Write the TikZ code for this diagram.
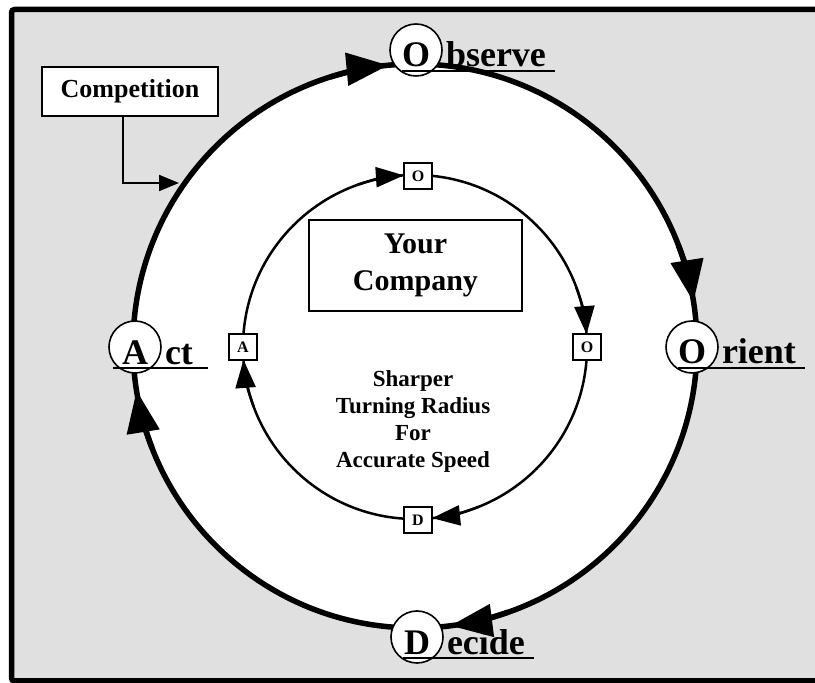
\documentclass[tikz,border=0pt]{standalone}
\usepackage{fontspec}
\setmainfont{Liberation Serif}
\usetikzlibrary{arrows.meta,calc,positioning}
\definecolor{panelgray}{RGB}{224,224,224}
\tikzset{
	bigtip/.style={-{Triangle[length=42pt,width=32pt]}},
	smalltip/.style={-{Triangle[length=28pt,width=20pt]}},
	outerring/.style={line width=5.5pt},
	innerring/.style={line width=2.5pt},
	stepring/.style={circle,draw,line width=1.6pt,fill=white,minimum size=52pt,inner sep=0pt},
	stepletter/.style={inner sep=0pt,font=\fontsize{36}{40}\selectfont\bfseries},
	stepword/.style={anchor=base west,inner sep=0pt,font=\fontsize{36}{40}\selectfont\bfseries},
	uline/.style={line width=2pt},
	stepbox/.style={draw,line width=1.5pt,fill=white,minimum width=28pt,minimum height=26pt,inner sep=0pt,font=\fontsize{16}{18}\selectfont\bfseries}
}
\begin{document}
\begin{tikzpicture}[x=1pt,y=1pt]
	%%%%% frame %%%%%
	\useasboundingbox (0,0) rectangle (815,683);
	\clip (0,0) rectangle (815,683);
	\draw[line width=5.5pt, fill=panelgray, rounded corners=3pt] (11.5,2) rectangle (830,673.5);
	
	%%%%% outer loop %%%%%
	\coordinate (c) at (415,337);
	\draw[outerring, fill=white] (c) circle[radius=282pt];
	\draw[outerring, bigtip] ($(c)+(107.4:282pt)$) arc[start angle=107.4, end angle=95.4, radius=282pt];
	\draw[outerring, bigtip] ($(c)+(21:282pt)$) arc[start angle=21, end angle=9, radius=282pt];
	\draw[outerring, bigtip] ($(c)+(-70.8:282pt)$) arc[start angle=-70.8, end angle=-82.8, radius=282pt];
	\draw[outerring, bigtip] ($(c)+(201.1:282pt)$) arc[start angle=201.1, end angle=189.1, radius=282pt];
	
	%%%%% inner loop %%%%%
	\coordinate (ic) at (415,336);
	\draw[innerring] (ic) circle[radius=172pt];
	\draw[innerring, smalltip] ($(ic)+(109.7:172pt)$) arc[start angle=109.7, end angle=93.7, radius=172pt];
	\draw[innerring, smalltip] ($(ic)+(20.3:172pt)$) arc[start angle=20.3, end angle=4.3, radius=172pt];
	\draw[innerring, smalltip] ($(ic)+(-68.3:172pt)$) arc[start angle=-68.3, end angle=-84.3, radius=172pt];
	\draw[innerring, smalltip] ($(ic)+(200.3:172pt)$) arc[start angle=200.3, end angle=184.3, radius=172pt];
	
	\node[stepbox] (iobs) at (418,507) {O};
	\node[stepbox] (iori) at (587,336) {O};
	\node[stepbox] (idec) at (418,163) {D};
	\node[stepbox] (iact) at (243,336) {A};
	
	%%%%% OODA steps %%%%%
	\node[stepring] (obsC) at (416,633) {};
	\node[stepletter] (obsL) at ([yshift=-5pt]obsC.center) {O};
	\node[stepword] (obsW) at ($(obsC.east |- obsL.base)+(3,0)$) {bserve};
	\draw[uline] ([shift={(-14pt,-4pt)}]obsL.base) -- ([shift={(9pt,-4pt)}]obsW.base east);
	
	\node[stepring] (oriC) at (692,336) {};
	\node[stepletter] (oriL) at ([yshift=-5pt]oriC.center) {O};
	\node[stepword] (oriW) at ($(oriC.east |- oriL.base)+(3,0)$) {rient};
	\draw[uline] ([shift={(-14pt,-4pt)}]oriL.base) -- ([shift={(9pt,-4pt)}]oriW.base east);
	
	\node[stepring] (decC) at (417,46) {};
	\node[stepletter] (decL) at ([yshift=-6pt]decC.center) {D};
	\node[stepword] (decW) at ($(decC.east |- decL.base)+(3,0)$) {ecide};
	\draw[uline] ([shift={(-14pt,-3pt)}]decL.base) -- ([shift={(9pt,-3pt)}]decW.base east);
	
	\node[stepring] (actC) at (135,336) {};
	\node[stepletter] (actL) at ([yshift=-6pt]actC.center) {A};
	\node[stepword] (actW) at ($(actC.east |- actL.base)+(3,0)$) {ct};
	\draw[uline] ([shift={(-22pt,-3pt)}]actL.base) -- ([shift={(15pt,-3pt)}]actW.base east);
	
	%%%%% centre texts %%%%%
	\node[draw, line width=2pt, fill=white, minimum width=213pt, minimum height=91pt, align=center,
		font=\fontsize{30}{37}\selectfont\bfseries] (firm) at (415.5,417.5) {Your\\Company};
	\node[align=center, font=\fontsize{23}{27}\selectfont\bfseries] (motto) at (413,262)
		{Sharper\\Turning Radius\\For\\Accurate Speed};
	
	%%%%% competition %%%%%
	\node[draw, line width=2pt, fill=white, minimum width=176pt, minimum height=49pt,
		font=\fontsize{26}{30}\selectfont\bfseries] (comp) at (130,591.5) {Competition};
	\coordinate (hit) at (179,500);
	\draw[line width=2pt, -{Triangle[length=20pt,width=16pt]}] ([xshift=-7pt]comp.south) |- (hit);
\end{tikzpicture}
\end{document}
